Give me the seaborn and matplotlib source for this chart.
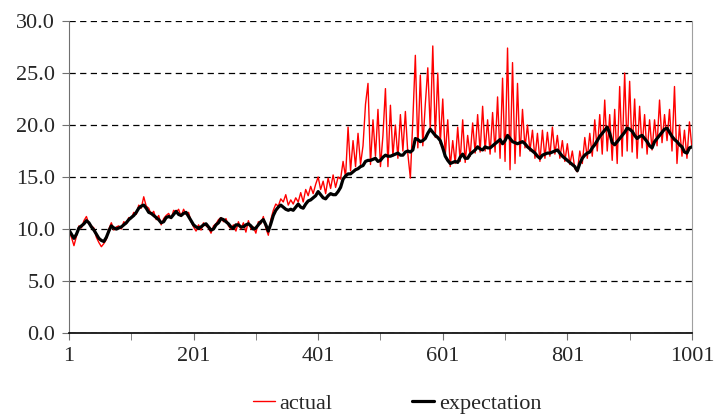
import matplotlib
matplotlib.use("Agg")
import numpy as np
import pandas as pd
import matplotlib.pyplot as plt
import seaborn as sns

# Style
sns.set_style("white")
plt.rcParams["font.family"] = ["Liberation Serif", "DejaVu Serif"]

# both series read every 4 steps (1, 5, 9, ..., 1001)
t = np.arange(1, 1002, 4)

expectation = [
    9.9, 9.5, 9.1, 9.5, 10.1, 10.3, 10.5, 10.8, 10.6, 10.2,
    9.9, 9.5, 9.1, 8.9, 8.8, 9.2, 9.8, 10.3, 10.1, 10.0,
    10.1, 10.2, 10.4, 10.6, 10.9, 11.1, 11.3, 11.6, 12.0, 12.2,
    12.3, 12.0, 11.6, 11.5, 11.3, 11.1, 10.9, 10.6, 10.7, 11.1,
    11.2, 11.1, 11.4, 11.7, 11.4, 11.3, 11.5, 11.6, 11.2, 10.8,
    10.4, 10.2, 10.1, 10.2, 10.4, 10.5, 10.2, 9.9, 10.0, 10.4,
    10.6, 11.0, 10.9, 10.7, 10.5, 10.2, 10.1, 10.4, 10.4, 10.2,
    10.2, 10.4, 10.5, 10.3, 10.0, 10.1, 10.4, 10.7, 10.9, 10.4,
    9.8, 10.5, 11.3, 11.8, 12.1, 12.3, 12.1, 11.9, 11.8, 11.9,
    11.8, 12.1, 12.4, 12.1, 12.0, 12.4, 12.7, 12.8, 13.0, 13.2,
    13.6, 13.3, 13.0, 12.9, 13.2, 13.4, 13.3, 13.3, 13.6, 14.0,
    14.8, 15.1, 15.3, 15.3, 15.5, 15.7, 15.8, 16.0, 16.1, 16.5,
    16.6, 16.6, 16.7, 16.8, 16.5, 16.6, 16.9, 17.1, 17.0, 17.0,
    17.1, 17.2, 17.3, 17.1, 17.1, 17.4, 17.5, 17.4, 17.6, 18.7,
    18.6, 18.4, 18.5, 18.7, 19.2, 19.6, 19.3, 19.0, 18.8, 18.5,
    17.8, 17.0, 16.6, 16.3, 16.4, 16.5, 16.4, 16.9, 17.2, 16.8,
    16.8, 17.2, 17.4, 17.6, 17.9, 17.7, 17.6, 17.9, 17.8, 17.8,
    18.0, 18.2, 18.4, 18.6, 18.2, 18.5, 19.0, 18.7, 18.4, 18.3,
    18.2, 18.3, 18.4, 18.2, 17.9, 17.7, 17.5, 17.3, 17.0, 16.8,
    17.1, 17.2, 17.3, 17.3, 17.4, 17.5, 17.6, 17.3, 17.0, 16.8,
    16.6, 16.4, 16.2, 16.0, 15.6, 16.3, 16.8, 17.1, 17.3, 17.4,
    17.8, 18.1, 18.5, 18.9, 19.2, 19.5, 19.8, 19.2, 18.3, 18.1,
    18.4, 18.7, 19.0, 19.3, 19.7, 19.6, 19.4, 19.0, 18.7, 18.9,
    19.0, 18.7, 18.4, 18.0, 17.8, 18.4, 18.7, 19.0, 19.3, 19.6,
    19.7, 19.3, 18.9, 18.6, 18.4, 18.1, 17.9, 17.4, 17.3, 17.8,
    17.9,
]

actual = [
    9.7, 9.2, 8.4, 9.3, 10.3, 10.1, 10.8, 11.2, 10.5, 10.3,
    10.1, 9.2, 8.7, 8.3, 8.6, 9.0, 10.0, 10.6, 9.9, 10.2,
    10.3, 10.0, 10.7, 10.5, 11.1, 11.0, 11.6, 11.4, 12.3, 12.0,
    13.1, 12.2, 12.0, 11.4, 11.7, 10.9, 11.3, 10.4, 11.0, 11.3,
    11.5, 11.0, 11.8, 11.6, 11.9, 11.2, 11.9, 11.4, 11.6, 10.7,
    10.2, 9.8, 10.4, 9.9, 10.6, 10.3, 10.1, 9.6, 10.3, 10.5,
    10.9, 11.1, 10.7, 11.0, 10.3, 10.0, 10.4, 9.8, 10.7, 10.0,
    10.6, 9.7, 10.8, 10.0, 10.2, 9.6, 10.7, 10.5, 11.2, 10.1,
    9.4, 10.9, 11.8, 12.4, 12.2, 12.9, 12.6, 13.3, 12.3, 12.8,
    12.4, 13.0, 12.6, 13.5, 12.6, 13.8, 13.2, 14.1, 13.4, 14.3,
    15.0, 13.8, 14.6, 13.4, 14.9, 13.9, 15.2, 14.0, 15.0, 14.8,
    16.5, 15.0, 19.8, 15.6, 18.5, 16.0, 19.2, 16.2, 18.0, 22.0,
    24.0, 16.2, 20.5, 17.0, 21.5, 16.0, 19.0, 23.5, 16.0, 21.9,
    17.0, 20.0, 16.8, 21.0, 17.5, 21.3, 17.2, 14.9, 20.5, 26.7,
    17.8, 24.8, 18.0, 22.0, 25.5, 19.5, 27.6, 18.8, 25.0, 18.2,
    22.5, 17.0, 20.5, 16.0, 18.5, 16.3, 19.8, 16.5, 20.5, 16.4,
    19.0, 17.0, 20.2, 17.3, 21.0, 17.4, 21.8, 17.5, 20.5, 17.2,
    21.2, 17.4, 22.7, 16.8, 24.5, 16.5, 27.4, 15.7, 26.0, 16.3,
    24.0, 17.0, 21.5, 17.8, 20.0, 17.5, 19.5, 16.8, 19.2, 16.5,
    19.5, 16.8, 19.3, 17.0, 19.8, 17.2, 19.0, 16.8, 18.5, 16.5,
    18.2, 16.2, 17.5, 15.8, 15.5, 17.5, 16.3, 18.8, 16.8, 19.2,
    17.0, 20.5, 17.5, 21.0, 17.2, 22.4, 17.5, 21.0, 16.6, 21.5,
    16.3, 23.7, 17.0, 25.0, 17.5, 24.2, 17.4, 22.5, 16.8, 21.8,
    17.8, 21.0, 17.2, 20.5, 17.6, 20.5, 18.0, 22.4, 18.3, 21.0,
    18.5, 21.5, 17.5, 23.7, 16.3, 20.0, 17.0, 19.5, 16.8, 20.3,
    17.8,
]

y_ticks = [0, 5, 10, 15, 20, 25, 30]
x_ticks = [1, 201, 401, 601, 801, 1001]
x_minor = [101, 301, 501, 701, 901]

df = pd.DataFrame({"t": t, "actual": actual, "expectation": expectation})

fig = plt.figure(figsize=(7.14, 4.16), dpi=100)
ax = fig.add_axes([0.0966, 0.1995, 0.8725, 0.75])

sns.lineplot(data=df, x="t", y="actual", color="#ff0000", lw=1.0,
             estimator=None, sort=False, ax=ax, label="actual")
sns.lineplot(data=df, x="t", y="expectation", color="black", lw=2.3,
             estimator=None, sort=False, ax=ax, label="expectation")

ax.set_xlim(1, 1001)
ax.set_ylim(0, 30)
ax.set_xlabel("")
ax.set_ylabel("")

ax.set_yticks(y_ticks)
ax.set_yticklabels([f"{v:.1f}" for v in y_ticks])
ax.set_xticks(x_ticks)
ax.set_xticklabels([str(v) for v in x_ticks])
ax.set_xticks(x_minor, minor=True)

ax.yaxis.grid(True, linestyle=(0, (5, 3.5)), color="black", lw=0.9)
ax.set_axisbelow(True)

ax.spines["top"].set_visible(False)
ax.spines["left"].set_color("#707070")
ax.spines["right"].set_color("#a0a0a0")
ax.spines["bottom"].set_color("black")
ax.spines["bottom"].set_linewidth(1.2)

ax.tick_params(axis="both", which="both", direction="out", length=5,
               color="#707070", labelsize=16, pad=5, bottom=True, left=True)

ax.legend(loc="center", bbox_to_anchor=(0.556, 0.029),
          bbox_transform=fig.transFigure, ncol=2, frameon=False,
          fontsize=16, handlelength=1.0, columnspacing=3.6, handletextpad=0.2)

plt.savefig("out.png", dpi=100)
